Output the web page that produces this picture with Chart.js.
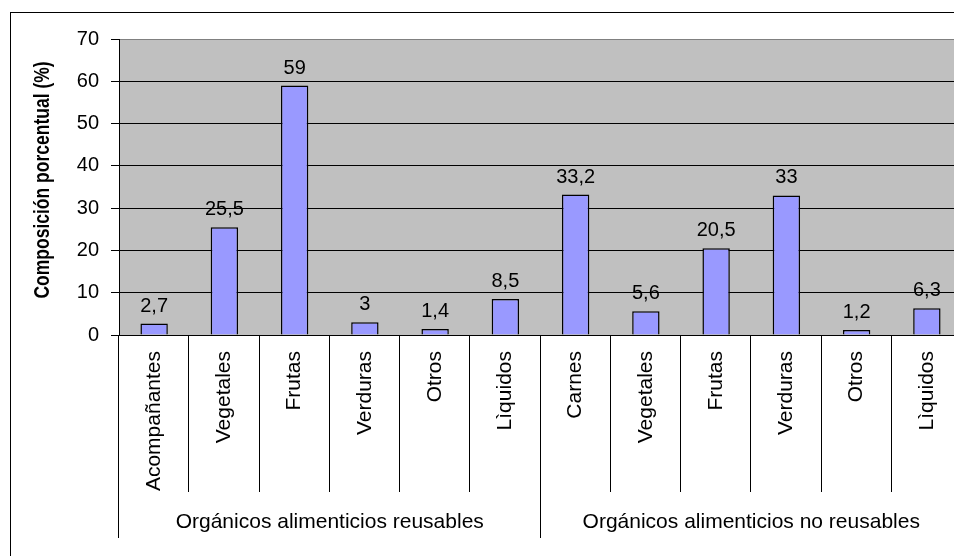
<!DOCTYPE html>
<html>
<head>
<meta charset="utf-8">
<script src="https://cdn.jsdelivr.net/npm/chart.js@4"></script>
<style>
  html, body { margin: 0; padding: 0; background: #fff; overflow: hidden; }
  canvas { display: block; }
</style>
</head>
<body>
<canvas id="chart" width="980" height="575"></canvas>
<script>
// Waste composition by category (%)
const categories = ['Acompañantes', 'Vegetales', 'Frutas', 'Verduras', 'Otros', 'Lìquidos',
                    'Carnes', 'Vegetales', 'Frutas', 'Verduras', 'Otros', 'Lìquidos'];
const composition = [2.7, 25.5, 59, 3, 1.4, 8.5, 33.2, 5.6, 20.5, 33, 1.2, 6.3];
const groupNames = ['Orgánicos alimenticios reusables', 'Orgánicos alimenticios no reusables'];
const groupSizes = [6, 6];
const yMin = 0, yMax = 70, yStep = 10;
const yTitle = 'Composición porcentual (%)';

const FONT = '"Liberation Sans", Arial, sans-serif';
const fmt = v => String(v).replace('.', ',');

// Background, outer frame, gray plot area, category dividers, group labels and axis title
const framePlugin = {
  id: 'frame',
  beforeDraw(chart) {
    const { ctx, chartArea: a, width, height } = chart;
    ctx.save();
    ctx.fillStyle = '#ffffff';
    ctx.fillRect(0, 0, width, height);
    ctx.strokeStyle = '#000';
    ctx.lineWidth = 1;
    ctx.strokeRect(10.5, 12.5, width - 21, height - 25);
    ctx.fillStyle = '#C0C0C0';
    ctx.fillRect(a.left, a.top, a.right - a.left, a.bottom - a.top);
    ctx.restore();
  },
  afterDraw(chart) {
    const { ctx, chartArea: a, scales: { x } } = chart;
    const step = x.getPixelForValue(1) - x.getPixelForValue(0);
    const edges = new Set([0]);
    let acc = 0;
    groupSizes.forEach(n => { acc += n; edges.add(acc); });
    ctx.save();
    ctx.strokeStyle = '#000';
    ctx.lineWidth = 1;
    for (let i = 0; i <= categories.length; i++) {
      const px = Math.round(x.getPixelForValue(0) - step / 2 + i * step) - 0.5;
      const len = edges.has(i) ? 203 : 157;
      ctx.beginPath();
      ctx.moveTo(px, a.bottom);
      ctx.lineTo(px, a.bottom + len);
      ctx.stroke();
    }
    ctx.fillStyle = '#000';
    ctx.font = '21px ' + FONT;
    ctx.textAlign = 'center';
    ctx.textBaseline = 'alphabetic';
    let start = 0;
    groupSizes.forEach((n, g) => {
      const l = x.getPixelForValue(start) - step / 2;
      const r = x.getPixelForValue(start + n - 1) + step / 2;
      ctx.fillText(groupNames[g], (l + r) / 2, a.bottom + 193);
      start += n;
    });
    // vertical axis title (wide bold lettering)
    ctx.font = 'bold 17.5px ' + FONT;
    ctx.textBaseline = 'middle';
    ctx.translate(43, (a.top + a.bottom) / 2 - 7);
    ctx.rotate(-Math.PI / 2);
    ctx.scale(1, 1.25);
    ctx.fillText(yTitle, 0, 0);
    ctx.restore();
  }
};

// Value labels above each bar
const valueLabels = {
  id: 'valueLabels',
  afterDatasetsDraw(chart) {
    const { ctx } = chart;
    const meta = chart.getDatasetMeta(0);
    ctx.save();
    ctx.fillStyle = '#000';
    ctx.font = '20px ' + FONT;
    ctx.textAlign = 'center';
    ctx.textBaseline = 'alphabetic';
    meta.data.forEach((bar, i) => {
      ctx.fillText(fmt(composition[i]), bar.x, bar.y - 12);
    });
    ctx.restore();
  }
};

new Chart(document.getElementById('chart'), {
  type: 'bar',
  data: {
    labels: categories,
    datasets: [{
      data: composition,
      backgroundColor: '#9999FF',
      borderColor: '#000000',
      borderWidth: 1.5,
      barPercentage: 0.39,
      categoryPercentage: 1
    }]
  },
  options: {
    responsive: false,
    animation: false,
    devicePixelRatio: 1,
    layout: { padding: { top: 39, right: 18, left: 0, bottom: 0 } },
    plugins: { legend: { display: false }, tooltip: { enabled: false } },
    scales: {
      x: {
        offset: true,
        grid: { display: false, drawTicks: false },
        border: { display: true, color: '#000', width: 1 },
        ticks: {
          autoSkip: false,
          minRotation: 90,
          maxRotation: 90,
          padding: 16,
          color: '#000',
          font: { family: FONT, size: 21 }
        },
        afterFit(scale) { scale.height = 240; }
      },
      y: {
        min: yMin,
        max: yMax,
        grid: {
          color: ctx => (ctx.tick && ctx.tick.value === yMax) ? '#808080' : '#000',
          lineWidth: 1,
          drawTicks: true,
          tickLength: 8,
          tickColor: '#000'
        },
        border: { display: true, color: '#000', width: 1 },
        ticks: {
          stepSize: yStep,
          padding: 12,
          color: '#000',
          font: { family: FONT, size: 20 }
        },
        title: { display: false },
        afterFit(scale) { scale.width = 119; }
      }
    }
  },
  plugins: [framePlugin, valueLabels]
});
</script>
</body>
</html>
